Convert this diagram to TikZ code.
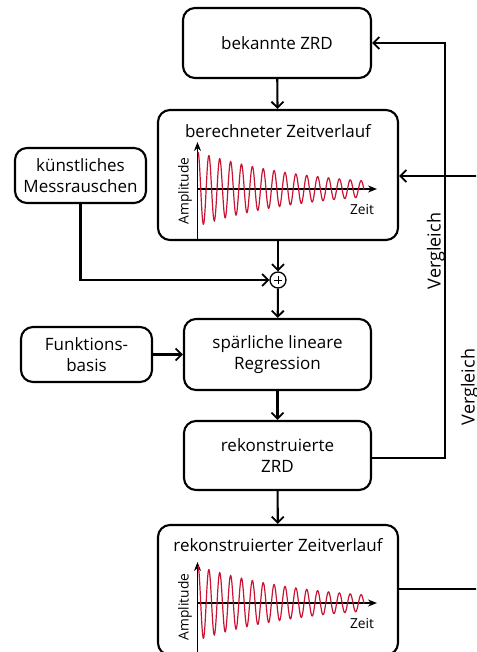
\documentclass[tikz,border=0pt]{standalone}
\usepackage{fontspec}
\setmainfont{Open Sans}
\usetikzlibrary{arrows.meta}
\definecolor{wavered}{RGB}{200,20,50}
\tikzset{
  box/.style={draw, line width=2.1pt, rounded corners=12pt, align=center, inner sep=2pt, font=\fontsize{17}{21.5}\selectfont},
  arr/.style={line width=2.1pt, -{Straight Barb[length=6pt,width=12pt,line width=1.8pt]}},
  con/.style={line width=2.1pt},
  axis/.style={line width=1.8pt, -{Stealth[length=9pt,width=7pt]}},
  lbl/.style={font=\fontsize{17}{20}\selectfont, inner sep=0pt},
  small/.style={font=\fontsize{13.8}{16}\selectfont, inner sep=0pt},
  vlbl/.style={font=\fontsize{18}{20}\selectfont, inner sep=0pt, rotate=90},
  wave/.style={wavered, line width=1.2pt}
}
\begin{document}
\begin{tikzpicture}[x=1pt,y=-1pt]
\useasboundingbox (0,0) rectangle (476,652);
\clip (0,0) rectangle (476,652);
% nodes
\node[box, minimum width=188pt, minimum height=70pt] (bek) at (277,43) {bekannte ZRD};
\node[box, minimum width=240pt, minimum height=130pt] (ber) at (278,175) {};
\node[box, minimum width=131pt, minimum height=55pt] (kuen) at (80.5,175.5) {künstliches\\Messrauschen};
\node[draw, circle, line width=1.3pt, minimum size=16pt, inner sep=0pt] (sum) at (278,280) {};
\draw[line width=1pt] (274,280) -- (282,280) (278,276) -- (278,284);
\node[box, minimum width=187pt, minimum height=71pt] (reg) at (277.5,354.5) {spärliche lineare\\Regression};
\node[box, minimum width=131pt, minimum height=55pt] (fb) at (86.5,354.5) {Funktions-\\basis};
\node[box, minimum width=187pt, minimum height=69pt] (rek) at (277.5,455.5) {rekonstruierte\\ZRD};
\node[box, minimum width=240pt, minimum height=130pt] (rzv) at (278,590) {};
% titles inside plot boxes
\node[lbl] (t1) at (278,131) {berechneter Zeitverlauf};
\node[lbl] (t2) at (278,545) {rekonstruierter Zeitverlauf};
% plot 1
\draw[axis] (197.5,239) -- (197.5,142);
\draw[axis] (197,189) -- (377,189);
\draw[wave] plot[domain=0:166, samples=500, smooth] ({198+\x},{189-37*exp(-0.0092*\x)*cos(\x*33.1)});
\node[small, rotate=90] (a1) at (185,191) {Amplitude};
\node[small] (z1) at (362,210) {Zeit};
% plot 2
\draw[axis] (197.5,652) -- (197.5,562);
\draw[axis] (197,603) -- (377,603);
\draw[wave] plot[domain=0:166, samples=500, smooth] ({198+\x},{603-37*exp(-0.0092*\x)*cos(\x*33.1)});
\node[small, rotate=90] (a2) at (185,607) {Amplitude};
\node[small] (z2) at (362,623) {Zeit};
% connectors
\draw[arr] (bek) -- (ber);
\draw[arr] (ber) -- (sum);
\draw[arr] (kuen.south) |- (sum.west);
\draw[arr] (sum) -- (reg);
\draw[arr] (fb) -- (reg);
\draw[arr] (reg) -- (rek);
\draw[arr] (rek) -- (rzv);
\coordinate (c1) at (445,458);
\coordinate (c2) at (445,43);
\draw[arr] (rek.east |- c1) -- (c1) -- (c2) -- (bek.east |- c2);
\coordinate (r1) at (490,176);
\draw[arr] (r1) -- (ber.east |- r1);
\coordinate (r2) at (490,589);
\draw[con] (rzv.east |- r2) -- (r2);
\node[vlbl] (v1) at (436,251) {Vergleich};
\node[vlbl] (v2) at (470,387) {Vergleich};
\end{tikzpicture}
\end{document}
